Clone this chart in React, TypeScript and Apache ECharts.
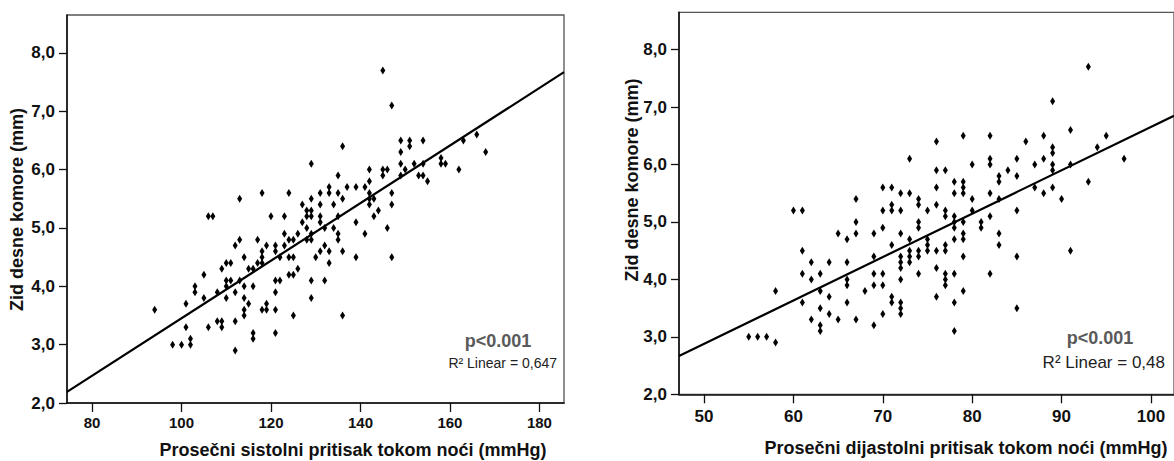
import React, { useEffect, useRef } from 'react';
import * as echarts from 'echarts';

// ---- data ----
const leftPoints: [number, number][] = [
  [94, 3.6], [98, 3.0], [100, 3.0], [102, 3.0], [102, 3.1], [101, 3.3], [101, 3.7],
  [103, 4.0], [103, 3.9], [105, 4.2], [105, 3.8], [106, 5.2], [107, 5.2], [106, 3.3],
  [108, 3.9], [108, 3.4], [109, 4.3], [109, 3.4], [109, 3.3],
  [110, 4.4], [110, 4.1], [110, 4.0], [110, 3.8], [111, 4.4], [111, 4.1],
  [112, 4.7], [112, 3.9], [112, 3.4], [112, 2.9], [113, 5.5], [113, 4.8], [113, 4.1],
  [114, 4.5], [114, 4.0], [114, 3.8], [114, 3.6], [114, 3.5], [115, 4.3], [115, 3.7],
  [116, 4.3], [116, 4.0], [116, 3.2], [116, 3.1], [117, 4.8], [117, 4.4],
  [118, 5.6], [118, 4.6], [118, 4.5], [118, 4.4], [118, 3.6], [119, 4.7], [119, 3.7], [119, 3.6],
  [120, 5.2], [121, 4.7], [121, 4.6], [121, 4.1], [121, 3.9], [121, 3.6], [121, 3.2],
  [122, 4.5], [122, 4.1], [123, 5.2], [123, 4.9], [123, 4.7],
  [124, 5.6], [124, 4.8], [124, 4.5], [124, 4.2], [125, 4.8], [125, 4.5], [125, 4.2], [125, 3.5],
  [126, 4.9], [126, 4.3], [127, 5.4], [127, 5.1], [128, 5.3], [128, 5.2], [128, 5.0], [128, 4.8],
  [129, 6.1], [129, 5.5], [129, 5.3], [129, 5.2], [129, 4.9], [129, 4.8], [129, 4.1], [129, 3.8],
  [130, 4.5], [131, 5.6], [131, 5.4], [131, 5.2], [131, 5.1], [131, 4.6],
  [132, 5.0], [132, 4.7], [132, 4.1], [133, 5.7], [133, 5.6], [133, 4.6], [133, 4.4],
  [134, 5.4], [134, 5.0], [135, 5.9], [135, 5.6], [135, 5.2], [135, 4.9], [135, 4.8],
  [136, 6.4], [136, 5.5], [136, 4.6], [136, 3.5], [137, 5.7], [139, 5.7], [139, 5.1], [139, 4.5],
  [141, 5.7], [141, 4.9], [142, 6.0], [142, 5.8], [142, 5.6], [142, 5.5], [142, 5.4],
  [143, 5.5], [143, 5.2], [144, 5.3], [145, 7.7], [145, 6.0], [145, 5.9], [146, 6.0], [146, 5.0],
  [147, 7.1], [147, 5.6], [147, 5.4], [147, 4.5], [149, 6.5], [149, 6.3], [149, 6.1], [149, 5.9],
  [150, 6.0], [151, 6.5], [151, 6.4], [152, 6.1], [153, 5.9], [154, 6.5], [154, 6.1], [154, 5.9],
  [155, 5.8], [158, 6.2], [158, 6.1], [159, 6.1], [162, 6.0], [163, 6.5], [166, 6.6], [168, 6.3],
];

const rightPoints: [number, number][] = [
  [55, 3.0], [56, 3.0], [57, 3.0], [58, 2.9], [58, 3.8],
  [60, 5.2], [61, 5.2], [61, 4.5], [61, 4.1], [61, 3.6], [62, 4.3], [62, 4.0], [62, 3.3],
  [63, 4.1], [63, 3.8], [63, 3.5], [63, 3.2], [63, 3.1], [64, 4.3], [64, 3.7], [64, 3.4],
  [65, 4.8], [65, 3.3], [66, 4.7], [66, 4.3], [66, 4.0], [66, 3.9], [66, 3.6],
  [67, 5.4], [67, 5.0], [67, 4.8], [67, 3.3], [68, 3.8],
  [69, 4.8], [69, 4.4], [69, 4.1], [69, 3.9], [69, 3.2],
  [70, 5.6], [70, 5.2], [70, 4.9], [70, 4.1], [70, 3.9], [70, 3.4],
  [71, 5.6], [71, 5.3], [71, 5.2], [71, 4.6], [71, 3.7], [71, 3.6],
  [72, 5.5], [72, 5.2], [72, 4.8], [72, 4.4], [72, 4.3], [72, 4.2], [72, 4.0], [72, 3.6], [72, 3.5], [72, 3.4],
  [73, 6.1], [73, 5.5], [73, 4.7], [73, 4.5], [73, 4.4], [73, 4.3],
  [74, 5.4], [74, 5.3], [74, 5.0], [74, 4.9], [74, 4.5], [74, 4.4], [74, 4.1],
  [75, 5.2], [75, 4.7], [75, 4.6], [75, 4.5],
  [76, 6.4], [76, 5.9], [76, 5.6], [76, 5.3], [76, 4.5], [76, 4.2], [76, 3.7],
  [77, 5.9], [77, 5.2], [77, 5.1], [77, 4.6], [77, 4.5], [77, 4.1], [77, 4.0], [77, 3.9],
  [78, 5.7], [78, 5.5], [78, 5.1], [78, 5.0], [78, 4.9], [78, 4.7], [78, 4.1], [78, 3.6], [78, 3.1],
  [79, 6.5], [79, 5.7], [79, 5.6], [79, 5.5], [79, 5.0], [79, 4.8], [79, 4.7], [79, 4.4], [79, 3.8],
  [80, 6.0], [80, 5.4], [80, 5.2], [81, 5.0], [81, 4.9],
  [82, 6.5], [82, 6.1], [82, 6.0], [82, 5.5], [82, 5.1], [82, 4.1],
  [83, 5.8], [83, 5.7], [83, 5.4], [83, 4.8], [83, 4.6], [84, 5.9],
  [85, 6.1], [85, 5.8], [85, 5.2], [85, 4.4], [85, 3.5], [86, 6.4], [87, 6.0], [87, 5.6],
  [88, 6.5], [88, 6.1], [88, 5.5], [89, 7.1], [89, 6.3], [89, 6.2], [89, 6.0], [89, 5.9], [89, 5.6],
  [90, 5.4], [91, 6.6], [91, 6.0], [91, 4.5], [93, 7.7], [93, 5.7], [94, 6.3], [95, 6.5], [97, 6.1],
];

// fitted lines, end points read at the plot edges
const leftFit: [number, number][] = [[74.4, 2.19], [185.5, 7.67]];
const rightFit: [number, number][] = [[47.2, 2.667], [102.58, 6.85]];

const leftXTicks = [80, 100, 120, 140, 160, 180];
const rightXTicks = [50, 60, 70, 80, 90, 100];
const yTicks = [2, 3, 4, 5, 6, 7, 8];

const yTitle = 'Zid desne komore (mm)';
const leftXTitle = 'Prosečni sistolni pritisak tokom noći (mmHg)';
const rightXTitle = 'Prosečni dijastolni pritisak tokom noći (mmHg)';
const pText = 'p<0.001';
const leftR2 = 'R² Linear = 0,647';
const rightR2 = 'R² Linear = 0,48';

const FONT = '"Liberation Sans", Arial, Helvetica, sans-serif';

function xAxisOpt(gridIndex: number, min: number, max: number, ticks: number[], fontSize: number, margin: number) {
  return {
    type: 'value', gridIndex, min, max,
    axisLine: { show: true, lineStyle: { color: '#111', width: 1.6 } },
    axisTick: { show: true, length: 9, lineStyle: { color: '#111', width: 1.3 }, customValues: ticks },
    axisLabel: { show: true, customValues: ticks, margin, color: '#111', fontWeight: 'bold', fontSize, fontFamily: FONT },
    splitLine: { show: false },
  };
}

function yAxisOpt(gridIndex: number, fontSize: number, margin: number) {
  return {
    type: 'value', gridIndex, min: 2, max: 8.65,
    axisLine: { show: true, lineStyle: { color: '#111', width: 1.6 } },
    axisTick: { show: true, length: 8, lineStyle: { color: '#111', width: 1.3 }, customValues: yTicks },
    axisLabel: {
      show: true, customValues: yTicks, margin, color: '#111', fontWeight: 'bold', fontSize, fontFamily: FONT,
      formatter: (v: number) => v.toFixed(1).replace('.', ','),
    },
    splitLine: { show: false },
  };
}

export default function App() {
  const ref = useRef<HTMLDivElement>(null);
  useEffect(() => {
    if (!ref.current) return;
    const chart = echarts.init(ref.current, undefined, { renderer: 'svg' });
    chart.setOption({
      animation: false,
      backgroundColor: '#ffffff',
      grid: [
        { left: 67, top: 15, width: 497, height: 388, show: true, borderColor: '#555', borderWidth: 1.3, backgroundColor: 'transparent' },
        { left: 679, top: 12.3, width: 497, height: 382, show: true, borderColor: '#555', borderWidth: 1.3, backgroundColor: 'transparent' },
      ],
      xAxis: [
        xAxisOpt(0, 74.4, 185.5, leftXTicks, 15, 12),
        xAxisOpt(1, 47.2, 102.58, rightXTicks, 17, 14),
      ],
      yAxis: [yAxisOpt(0, 17, 12), yAxisOpt(1, 17, 12)],
      series: [
        {
          type: 'scatter', xAxisIndex: 0, yAxisIndex: 0, data: leftPoints,
          symbol: 'diamond', symbolSize: [5, 8], itemStyle: { color: '#000', opacity: 1 },
        },
        {
          type: 'line', xAxisIndex: 0, yAxisIndex: 0, data: leftFit, showSymbol: false, symbol: 'none',
          lineStyle: { color: '#000', width: 2.2 }, clip: true,
        },
        {
          type: 'scatter', xAxisIndex: 1, yAxisIndex: 1, data: rightPoints,
          symbol: 'diamond', symbolSize: [5, 8], itemStyle: { color: '#000', opacity: 1 },
        },
        {
          type: 'line', xAxisIndex: 1, yAxisIndex: 1, data: rightFit, showSymbol: false, symbol: 'none',
          lineStyle: { color: '#000', width: 2.2 }, clip: true,
        },
      ],
      graphic: [
        { type: 'text', x: 17, y: 209.5, rotation: Math.PI / 2,
          style: { text: yTitle, align: 'center', verticalAlign: 'middle', fill: '#111', font: `bold 18px ${FONT}` } },
        { type: 'text', x: 632, y: 180, rotation: Math.PI / 2,
          style: { text: yTitle, align: 'center', verticalAlign: 'middle', fill: '#111', font: `bold 18px ${FONT}` } },
        { type: 'text', x: 353, y: 450,
          style: { text: leftXTitle, align: 'center', verticalAlign: 'middle', fill: '#111', font: `bold 18px ${FONT}` } },
        { type: 'text', x: 966, y: 447.5,
          style: { text: rightXTitle, align: 'center', verticalAlign: 'middle', fill: '#111', font: `bold 18px ${FONT}` } },
        { type: 'text', x: 498, y: 341,
          style: { text: pText, align: 'center', verticalAlign: 'middle', fill: '#5a5a5a', font: `bold 18px ${FONT}` } },
        { type: 'text', x: 557, y: 363,
          style: { text: leftR2, align: 'right', verticalAlign: 'middle', fill: '#222', font: `14px ${FONT}` } },
        { type: 'text', x: 1100, y: 338,
          style: { text: pText, align: 'center', verticalAlign: 'middle', fill: '#5a5a5a', font: `bold 18px ${FONT}` } },
        { type: 'text', x: 1165, y: 362.5,
          style: { text: rightR2, align: 'right', verticalAlign: 'middle', fill: '#222', font: `17px ${FONT}` } },
      ],
    });
    return () => chart.dispose();
  }, []);
  return (
    <div
      ref={ref}
      style={{ position: 'fixed', left: 0, top: 0, width: 1174, height: 461, background: '#fff' }}
    />
  );
}
